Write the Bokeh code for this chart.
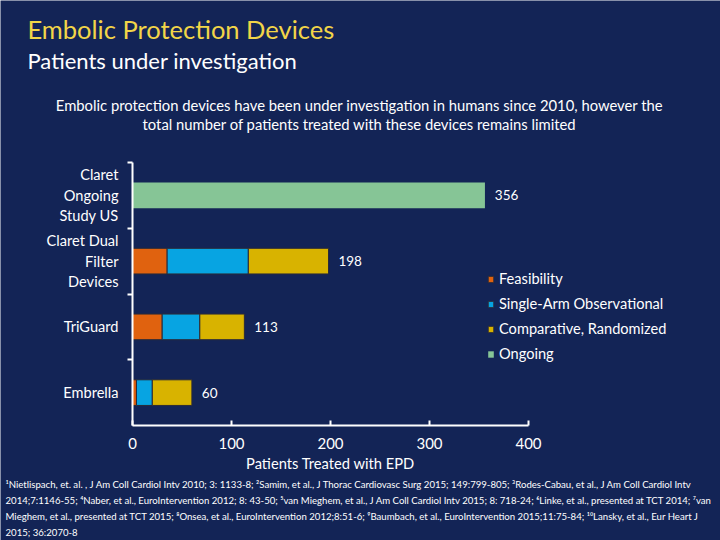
from bokeh.plotting import figure
from bokeh.models import Range1d, FixedTicker, Label, Legend, LegendItem, ColumnDataSource
from bokeh.core.properties import value
from bokeh.embed import file_html
from bokeh.resources import INLINE

# ---------------- data ----------------
categories = ["Claret Ongoing Study US", "Claret Dual Filter Devices", "TriGuard", "Embrella"]
category_labels = ["Claret\nOngoing\nStudy US", "Claret Dual\nFilter\nDevices", "TriGuard", "Embrella"]
series_names = ["Feasibility", "Single-Arm Observational", "Comparative, Randomized", "Ongoing"]
feasibility = [0, 35, 30, 4]
single_arm = [0, 82, 38, 16]
comparative = [0, 81, 45, 40]
ongoing = [356, 0, 0, 0]
totals = [356, 198, 113, 60]
x_ticks = [0, 100, 200, 300, 400]
series_colors = ["#e0620f", "#07a4e2", "#d8b300", "#86c596"]

title_text = "Embolic Protection Devices"
subtitle_text = "Patients under investigation"
desc_lines = ["Embolic protection devices have been under investigation in humans since 2010, however the",
              "total number of patients treated with these devices remains limited"]
x_axis_title = "Patients Treated with EPD"
footnotes = [
    "\u00b9Nietlispach, et. al. , J Am Coll Cardiol Intv 2010; 3: 1133-8; \u00b2Samim, et al., J Thorac Cardiovasc Surg 2015; 149:799-805; \u00b3Rodes-Cabau, et al., J Am Coll Cardiol Intv",
    "2014;7:1146-55; \u2074Naber, et al., EuroIntervention 2012; 8: 43-50; \u2075van Mieghem, et al., J Am Coll Cardiol Intv 2015; 8: 718-24; \u2076Linke, et al., presented at TCT 2014; \u2077van",
    "Mieghem, et al., presented at TCT 2015; \u2078Onsea, et al., EuroIntervention 2012;8:51-6; \u2079Baumbach, et al., EuroIntervention 2015;11:75-84; \u00b9\u2070Lansky, et al., Eur Heart J",
    "2015; 36:2070-8",
]

FONT = "Lato"
BG = "#132456"

n = len(categories)
ypos = [n - i - 0.5 for i in range(n)]

W, H = 720, 540
# pixel placement of the value axis (0 -> AX0, 400 -> AX1) and category band (top -> CT, bottom -> CB)
AX0, AX1, CT, CB = 132, 528, 162, 425
xs = (AX1 - AX0) / 400.0
ys = (CB - CT) / n
x_range = Range1d(-AX0 / xs, (W - AX0) / xs)
y_range = Range1d(-(H - CB) / ys, n + CT / ys)

p = figure(width=W, height=H, x_range=x_range, y_range=y_range,
           output_backend="svg", toolbar_location=None,
           min_border_left=0, min_border_right=0, min_border_top=0, min_border_bottom=0)
p.background_fill_color = BG
p.border_fill_color = BG
p.outline_line_color = None
p.grid.visible = False

# bars
all_series = [feasibility, single_arm, comparative, ongoing]
cum = [0] * n
renderers = []
for name, vals, col in zip(series_names, all_series, series_colors):
    lefts, rights, yy = [], [], []
    for i in range(n):
        if vals[i] > 0:
            lefts.append(cum[i]); rights.append(cum[i] + vals[i]); yy.append(ypos[i])
        cum[i] += vals[i]
    src = ColumnDataSource(dict(left=lefts, right=rights, y=yy))
    lc = None if name == "Ongoing" else "#2a2a38"
    r = p.hbar(y="y", left="left", right="right", height=0.39, source=src,
               fill_color=col, line_color=lc, line_width=1)
    renderers.append(r)

# totals
p.text(x=[t + 10 for t in totals], y=ypos, text=[str(t) for t in totals],
       text_color="white", text_font=value(FONT), text_font_size="13.5px",
       text_baseline="middle", text_align="left")

# axes (pinned inside the frame)
xa = p.xaxis[0]
xa.fixed_location = 0
xa.bounds = (0, 400)
xa.ticker = FixedTicker(ticks=x_ticks)
xa.axis_label = x_axis_title
xa.axis_line_color = "white"; xa.axis_line_width = 2
xa.major_tick_line_color = "white"; xa.major_tick_line_width = 2
xa.major_tick_in = 5; xa.major_tick_out = 0
xa.minor_tick_line_color = None
xa.major_label_text_color = "white"; xa.major_label_text_font = FONT
xa.major_label_text_font_size = "15px"; xa.major_label_standoff = 12
xa.axis_label_text_color = "white"; xa.axis_label_text_font = FONT
xa.axis_label_text_font_size = "14.7px"; xa.axis_label_text_font_style = "normal"
xa.axis_label_standoff = 2

ya = p.yaxis[0]
ya.fixed_location = 0
ya.bounds = (0, n)
ya.ticker = FixedTicker(ticks=ypos, minor_ticks=[1, 2, 3, 4])
ya.major_label_overrides = {y: lab for y, lab in zip(ypos, category_labels)}
ya.axis_line_color = "white"; ya.axis_line_width = 2
ya.major_tick_line_color = None
ya.major_tick_in = 0; ya.major_tick_out = 0
ya.minor_tick_line_color = "white"; ya.minor_tick_line_width = 2
ya.minor_tick_in = 0; ya.minor_tick_out = 5
ya.major_label_text_color = "white"; ya.major_label_text_font = FONT
ya.major_label_text_font_size = "14.6px"; ya.major_label_standoff = 9

# legend
legend = Legend(items=[LegendItem(label=s, renderers=[r]) for s, r in zip(series_names, renderers)],
                location=(487, H - 364))
legend.background_fill_alpha = 0
legend.border_line_color = None
legend.label_text_color = "white"
legend.label_text_font = FONT
legend.label_text_font_size = "14.6px"
legend.glyph_width = 7; legend.glyph_height = 8
legend.label_height = 21; legend.spacing = 4
legend.label_standoff = 5
legend.padding = 0; legend.margin = 0
p.add_layout(legend)


def add_text(text, X, Y, size, color="white", align="left", style="normal"):
    # X, Y in canvas pixels from the top-left corner
    p.add_layout(Label(x=X, y=H - Y, x_units="screen", y_units="screen",
                       text=text, text_color=color, text_font=FONT, text_font_size=size,
                       text_align=align, text_baseline="middle", text_font_style=style))


add_text(title_text, 27, 28, "25.5px", color="#f2d548")
add_text(subtitle_text, 27, 60, "22px")
add_text(desc_lines[0], 359, 104, "14.8px", align="center")
add_text(desc_lines[1], 359, 123, "14.8px", align="center")
for k, line in enumerate(footnotes):
    add_text(line, 5, 484 + 16 * k, "9.6px")

open("out.html", "w").write(file_html(p, INLINE))
